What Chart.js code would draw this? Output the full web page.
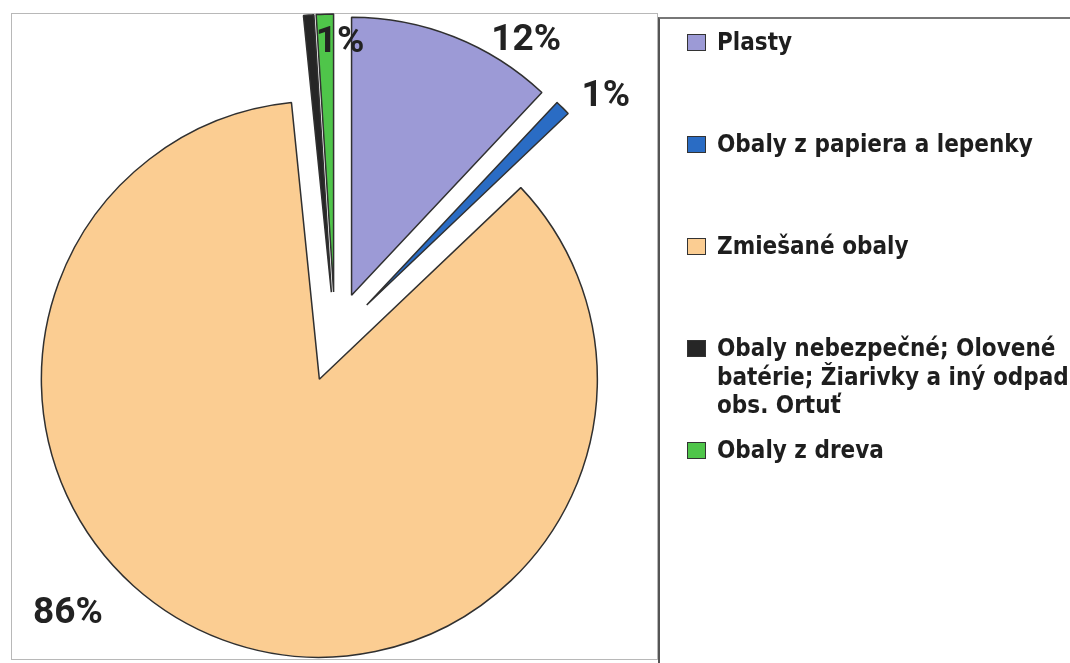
<!DOCTYPE html>
<html>
<head>
<meta charset="utf-8">
<script src="https://cdn.jsdelivr.net/npm/chart.js@4.4.0/dist/chart.umd.min.js"></script>
<style>
    html, body { margin: 0; padding: 0; background: #fff; }
    #page { position: relative; width: 1070px; height: 663px; overflow: hidden; }
    #frame { position: absolute; left: 11px; top: 13px; width: 645px; height: 645px; border: 1.5px solid #b8b8b8; }
    #legendBox { position: absolute; left: 658px; top: 17px; width: 430px; height: 680px;
                 border-left: 2.5px solid #555; border-top: 2px solid #777; }
    #pie { position: absolute; left: 0; top: 0; }
    #legend { position: absolute; left: 687px; top: 28px; width: 380px; }
    #legend .item { position: absolute; left: 0; height: 102px; display: flex; align-items: flex-start; }
    #legend .box { width: 17px; height: 15px; border: 1px solid #333; margin-top: 6px; margin-right: 11px; flex: none; }
    #legend .txt { font-family: "DejaVu Sans Condensed", "Open Sans", sans-serif; font-stretch: condensed;
                   font-weight: bold; font-size: 24px; line-height: 28.5px; color: #1e1e1e; white-space: nowrap; }
</style>
</head>
<body>
<div id="page">
    <div id="frame"></div>
    <div id="legendBox"></div>
    <canvas id="pie" width="1070" height="663"></canvas>
    <div id="legend"></div>
</div>
<script>
    // kategorie a hodnoty (podiel v %)
    var categories = [
        'Plasty',
        'Obaly z papiera a lepenky',
        'Zmiešané obaly',
        ['Obaly nebezpečné; Olovené', 'batérie; Žiarivky a iný odpad', 'obs. Ortuť'],
        'Obaly z dreva'
    ];
    var shares = [12.0, 0.9, 85.5, 0.6, 1.0];
    var sliceColors = ['#9c9ad6', '#2a6cc4', '#fbcd92', '#262626', '#4fc54a'];

    // vysunutie vsetkych vysekov (ako v Exceli)
    var explodePlugin = {
        id: 'explode',
        beforeDatasetDraw: function (chart, args, opts) {
            var ctx = chart.ctx;
            args.meta.data.forEach(function (arc) {
                var mid = (arc.startAngle + arc.endAngle) / 2;
                ctx.save();
                ctx.translate(Math.cos(mid) * opts.distance, Math.sin(mid) * opts.distance);
                arc.draw(ctx);
                ctx.restore();
            });
            return false;
        }
    };

    // percenta pri vysekoch
    var pctPlugin = {
        id: 'pctLabels',
        afterDatasetsDraw: function (chart, args, opts) {
            var ctx = chart.ctx;
            var meta = chart.getDatasetMeta(0);
            var data = chart.data.datasets[0].data;
            var total = data.reduce(function (a, b) { return a + b; }, 0);
            ctx.save();
            ctx.font = opts.font;
            ctx.fillStyle = opts.color;
            ctx.textAlign = 'center';
            ctx.textBaseline = 'middle';
            meta.data.forEach(function (arc, i) {
                var p = opts.place[i];
                if (!p) return;
                var a = (arc.startAngle + arc.endAngle) / 2 + p.turn * Math.PI / 180;
                var r = arc.outerRadius + p.out;
                var txt = Math.round(data[i] * 100 / total) + '%';
                ctx.fillText(txt, arc.x + Math.cos(a) * r, arc.y + Math.sin(a) * r);
            });
            ctx.restore();
        }
    };

    var chart = new Chart(document.getElementById('pie').getContext('2d'), {
        type: 'pie',
        data: {
            labels: categories,
            datasets: [{
                data: shares,
                backgroundColor: sliceColors,
                borderColor: '#303030',
                borderWidth: 1.5
            }]
        },
        options: {
            responsive: false,
            animation: false,
            radius: 278,
            layout: { padding: { left: 35, right: 435, top: 37, bottom: 26 } },
            plugins: {
                legend: { display: false },
                tooltip: { enabled: false },
                explode: { distance: 45 },
                pctLabels: {
                    font: 'bold 37px Roboto',
                    color: '#222',
                    place: [
                        { turn: 11.2, out: 75 },
                        { turn: 3.6, out: 84 },
                        { turn: 23.6, out: 107 },
                        null,
                        { turn: 2.8, out: 16 }
                    ]
                }
            }
        },
        plugins: [explodePlugin, pctPlugin]
    });

    // legenda vpravo
    var legendEl = document.getElementById('legend');
    var items = chart.options.plugins.legend.labels.generateLabels(chart);
    items.forEach(function (it, i) {
        var row = document.createElement('div');
        row.className = 'item';
        row.style.top = (i * 102) + 'px';
        var box = document.createElement('span');
        box.className = 'box';
        box.style.background = it.fillStyle;
        var txt = document.createElement('span');
        txt.className = 'txt';
        txt.innerHTML = [].concat(it.text).join('<br>');
        row.appendChild(box);
        row.appendChild(txt);
        legendEl.appendChild(row);
    });
</script>
</body>
</html>
